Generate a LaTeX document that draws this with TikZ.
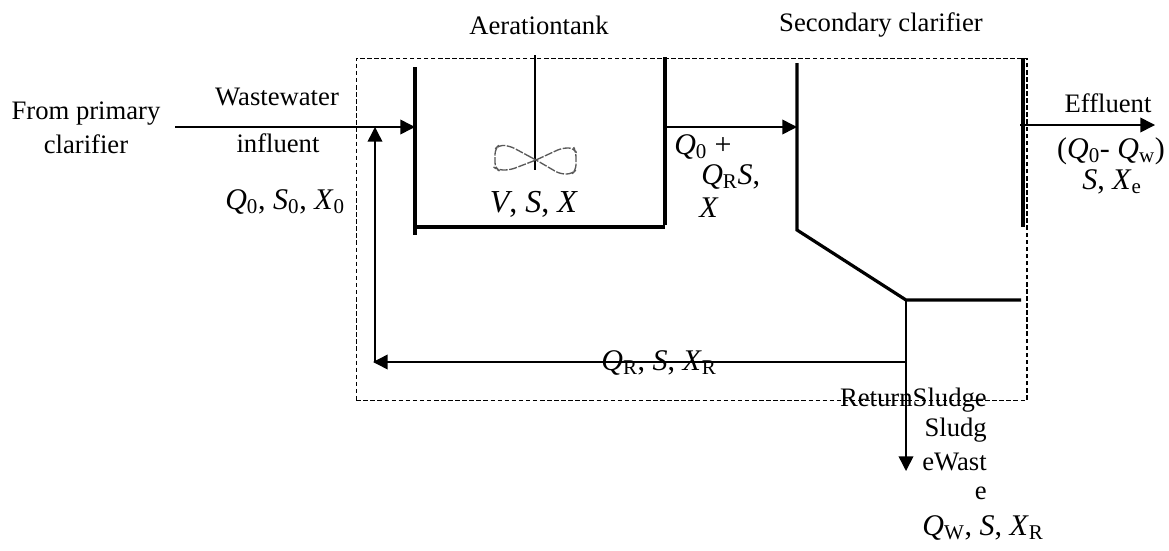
\documentclass[tikz,border=0pt]{standalone}
\usepackage{fontspec}
\setmainfont{Liberation Serif}
\usetikzlibrary{arrows.meta}
\newcommand{\sz}{\fontsize{20pt}{24pt}\selectfont}
\newcommand{\szq}{\fontsize{22.5pt}{26pt}\selectfont}
\newcommand{\szv}{\fontsize{24pt}{28pt}\selectfont}
\newcommand{\sbs}[1]{\textsubscript{#1}}
\tikzset{
 x=0.75pt,y=-0.75pt,
 lbl/.style={inner sep=0pt,font=\sz,text=black},
 qlbl/.style={inner sep=0pt,font=\szq,text=black},
 wall/.style={line width=2.4pt,black},
 flow/.style={line width=1.15pt,black},
 tip/.style={-{Triangle[length=11pt,width=11pt]}},
}
\begin{document}
\begin{tikzpicture}
\useasboundingbox (0,0) rectangle (1169,550);
\fill[white] (0,0) rectangle (1169,550);
\node[name=box,draw=black,dash pattern=on 3.4pt off 1.9pt,line width=1.1pt,minimum width=503pt,minimum height=256.5pt,inner sep=0pt,anchor=north west] at (355.5,57.5) {};
% coordinates
\coordinate (inS) at (175,127);
\coordinate (tTL) at (415,67);
\coordinate (tBL) at (415,235);
\coordinate (tIn) at (415,127);
\coordinate (bL) at (415,227);
\coordinate (bR) at (665,227);
\coordinate (tTR) at (665,57);
\coordinate (tBR) at (665,225);
\coordinate (tOut) at (665,127);
\coordinate (cIn) at (797,127);
\coordinate (cT) at (797,63);
\coordinate (cB) at (797,230);
\coordinate (cK) at (906,300);
\coordinate (cE) at (1021,300);
\coordinate (rT) at (1023,58);
\coordinate (rB) at (1023,227);
\coordinate (eS) at (1020,125);
\coordinate (eE) at (1155,125);
\coordinate (wE) at (906,471);
\coordinate (rJ) at (906,362);
\coordinate (rL) at (373,362);
\coordinate (rS) at (375,362);
\coordinate (rU) at (375,127);
\coordinate (shT) at (535,55);
\coordinate (shB) at (535,170);
% walls
\draw[wall] (tTL)--(tBL);
\draw[wall] (bL)--(bR);
\draw[wall] (tTR)--(tBR);
\draw[wall] (cT)--(cB)--(cK)--(cE);
\draw[wall] (rT)--(rB);
% flows
\draw[flow,tip] (inS)--(tIn);
\draw[flow,tip] (tOut)--(cIn);
\draw[flow,tip] (eS)--(eE);
\draw[flow,tip] (cK)--(wE);
\draw[flow,tip] (rJ)--(rL);
\draw[flow,tip] (rS)--(rU);
\draw[flow] (shT)--(shB);
% impeller
\draw[gray!70!black,line width=1pt,dash pattern=on 6pt off 1.2pt,rounded corners=4pt]
 (536,160) -- (510,146) -- (499,145) -- (495,149) -- (495,168) -- (498,170) -- (510,170) -- (536,160)
 -- (562,148) -- (574,148) -- (576,152) -- (576,170) -- (572,174) -- (560,174) -- cycle;
% labels
\node[lbl] (t1) at (539,25) {Aerationtank};
\node[lbl] (t2) at (881,25) {Secondary clarifier};
\node[lbl] (t3) at (86,114) {From primary};
\node[lbl] (t4) at (86,144) {clarifier};
\node[lbl] (t5) at (277,97) {Wastewater};
\node[lbl] (t6) at (278,143) {influent};
\node[qlbl] (t7) at (285,202) {\textit{Q}\sbs{0}, \textit{S}\sbs{0}, \textit{X}\sbs{0}};
\node[inner sep=0pt,font=\szv] (t8) at (534,204) {\textit{V}, \textit{S}, \textit{X}};
\node[qlbl,anchor=west] (t9) at (674,147) {\textit{Q}\sbs{0} +};
\node[qlbl,anchor=west] (t10) at (701,177) {\textit{Q}\sbs{R}\textit{S},};
\node[qlbl,anchor=west] (t11) at (699,208) {\textit{X}};
\node[lbl] (t12) at (1108,103) {Effluent};
\node[qlbl] (t13) at (1111,151) {(\textit{Q}\sbs{0}- \textit{Q}\sbs{w})};
\node[qlbl] (t14) at (1112,182) {\textit{S}, \textit{X}\sbs{e}};
\node[qlbl] (t15) at (659,363) {\textit{Q}\sbs{R}, \textit{S}, \textit{X}\sbs{R}};
\node[lbl,anchor=east] (t16) at (987,400) {ReturnSludge};
\node[lbl,anchor=east] (t17) at (987,430) {Sludg};
\node[lbl,anchor=east] (t18) at (987,462) {eWast};
\node[lbl,anchor=east] (t19) at (987,493) {e};
\node[qlbl] (t20) at (983,528) {\textit{Q}\sbs{W}, \textit{S}, \textit{X}\sbs{R}};
\end{tikzpicture}
\end{document}
